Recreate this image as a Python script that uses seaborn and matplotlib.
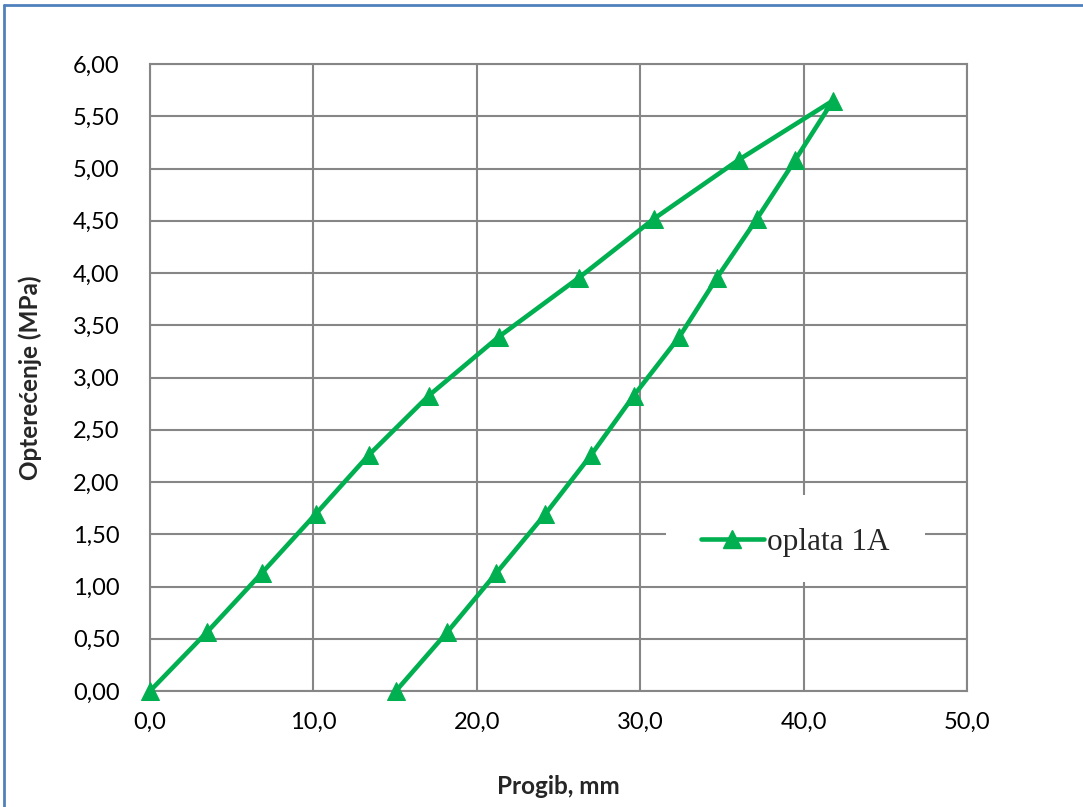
import matplotlib
matplotlib.use("Agg")
import matplotlib.pyplot as plt
import seaborn as sns
import pandas as pd
from matplotlib.lines import Line2D
from matplotlib.patches import Rectangle

progib = [0.0, 3.5, 6.85, 10.15, 13.4, 17.05, 21.35, 26.25, 30.85, 36.05, 41.8,
          39.5, 37.15, 34.7, 32.4, 29.6, 27.0, 24.2, 21.2, 18.2, 15.05]
opterecenje = [0.0, 0.565, 1.13, 1.695, 2.26, 2.825, 3.39, 3.955, 4.52, 5.085, 5.65,
               5.085, 4.52, 3.955, 3.39, 2.825, 2.26, 1.695, 1.13, 0.565, 0.0]
series_name = "oplata 1A"
x_ticks = [0, 10, 20, 30, 40, 50]
y_ticks = [0, 0.5, 1, 1.5, 2, 2.5, 3, 3.5, 4, 4.5, 5, 5.5, 6]

df = pd.DataFrame({"Progib": progib, "Opt": opterecenje})

sns.set_style("white")
plt.rcParams["font.family"] = ["Lato", "DejaVu Sans"]

green = "#00B050"
grid = "#868686"

fig = plt.figure(figsize=(10.83, 8.07), dpi=100)
ax = fig.add_axes([150/1083, 1-691/807, (967-150)/1083, (691-64)/807])

sns.lineplot(data=df, x="Progib", y="Opt", sort=False, ax=ax, color=green,
             linewidth=3.3, marker="^", markersize=12.5, markeredgecolor=green,
             markerfacecolor=green, legend=False, clip_on=False, zorder=5)

ax.set_xlim(0, 50)
ax.set_ylim(0, 6)
ax.set_xticks(x_ticks)
ax.set_yticks(y_ticks)
ax.set_xticklabels([f"{v:.1f}".replace(".", ",") for v in x_ticks], fontsize=17)
ax.set_yticklabels([f"{v:.2f}".replace(".", ",") for v in y_ticks], fontsize=17)
ax.tick_params(axis="both", length=0, colors="black")
ax.tick_params(axis="y", pad=22)
ax.tick_params(axis="x", pad=15)
ax.grid(True, color=grid, linewidth=1.5)
for s in ax.spines.values():
    s.set_color(grid)
    s.set_linewidth(1.5)

ax.set_xlabel("Progib, mm", fontsize=17.5, fontweight="bold", labelpad=30)
ax.set_ylabel("Opterećenje (MPa)", fontsize=17.5, fontweight="bold", labelpad=22)

# white background of the legend box (covers gridlines like the reference)
ax.add_patch(Rectangle((31.6, 1.04), 15.8, 0.835, facecolor="white",
                       edgecolor="none", zorder=1))

handle = Line2D([], [], color=green, linewidth=3.3, marker="^", markersize=12.5)
leg = ax.legend([handle], [series_name], loc="center", bbox_to_anchor=(0.79, 0.237),
                frameon=False, prop={"family": "Liberation Serif", "size": 22.5},
                handlelength=2.0, handletextpad=0.12)
leg.set_zorder(6)

# blue frame (left and top edges)
fig.add_artist(Line2D([4/1083, 4/1083], [0, 1-5/807], transform=fig.transFigure,
                      color="#4F81BD", linewidth=2))
fig.add_artist(Line2D([4/1083, 1], [1-5/807, 1-5/807], transform=fig.transFigure,
                      color="#4F81BD", linewidth=2))

fig.savefig("out.png", dpi=100)
